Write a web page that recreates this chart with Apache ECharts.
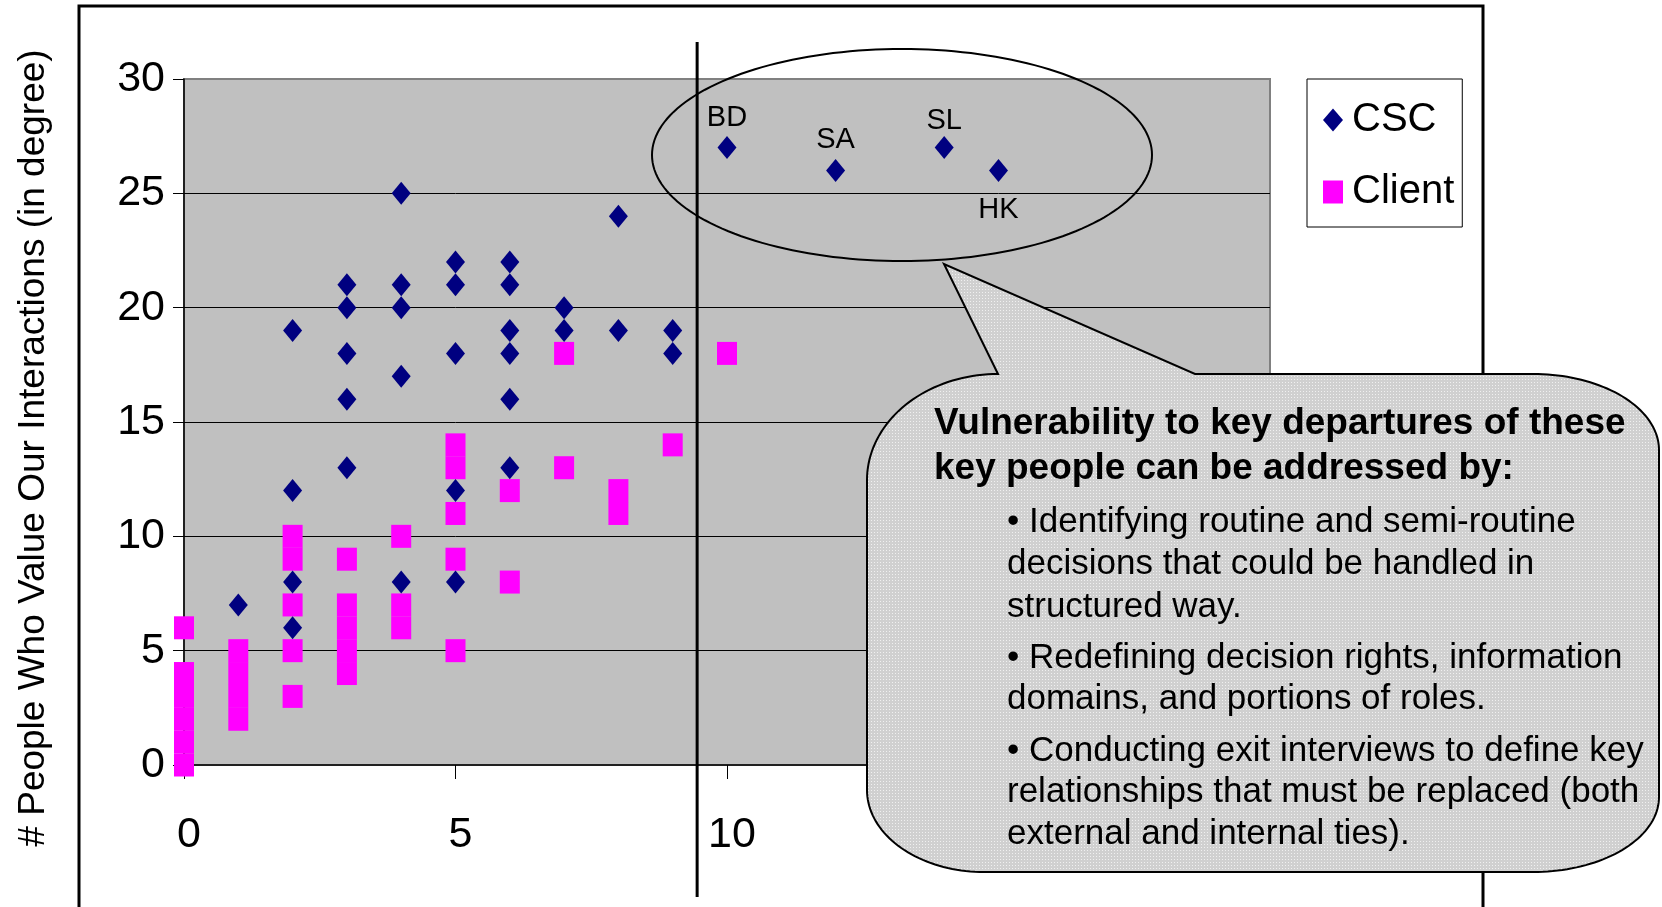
<!DOCTYPE html>
<html><head><meta charset="utf-8">
<script src="https://cdn.jsdelivr.net/npm/echarts@6/dist/echarts.min.js"></script>
<style>html,body{margin:0;padding:0;background:#fff;} #c{width:1662px;height:907px;}</style>
</head><body><div id="c"></div>
<script>
const FONT = "'Liberation Sans', Arial, sans-serif";
const NARROW = "'Liberation Sans Narrow', 'Arial Narrow', 'Liberation Sans', sans-serif";

// ---- data ----
const seriesNames = ['CSC', 'Client'];
const cscPoints = [
  [1,7],
  [2,19],[2,12],[2,8],[2,6],
  [3,21],[3,20],[3,18],[3,16],[3,13],
  [4,25],[4,21],[4,20],[4,17],[4,8],
  [5,22],[5,21],[5,18],[5,12],[5,8],
  [6,22],[6,21],[6,19],[6,18],[6,16],[6,13],
  [7,20],[7,19],
  [8,24],[8,19],
  [9,19],[9,18]
];
const keyPeople = ['BD', 'SA', 'SL', 'HK'];
const keyPeoplePoints = [[10,27],[12,26],[14,27],[15,26]];
const clientPoints = [
  [0,6],[0,4],[0,3],[0,2],[0,1],[0,0],
  [1,5],[1,4],[1,3],[1,2],
  [2,10],[2,9],[2,7],[2,5],[2,3],
  [3,9],[3,7],[3,6],[3,5],[3,4],
  [4,10],[4,7],[4,6],
  [5,14],[5,13],[5,11],[5,9],[5,5],
  [6,12],[6,8],
  [7,18],[7,13],
  [8,12],[8,11],
  [9,14],
  [10,18]
];
const yAxisTitle = '# People Who Value Our Interactions (in degree)';
const thresholdX = 9.45;
const calloutHeading = ['Vulnerability to key departures of these', 'key people can be addressed by:'];
const calloutBullets = [
  ['\u2022 Identifying routine and semi-routine', 'decisions that could be handled in', 'structured way.'],
  ['\u2022 Redefining decision rights, information', 'domains, and portions of roles.'],
  ['\u2022 Conducting exit interviews to define key', 'relationships that must be replaced (both', 'external and internal ties).']
];

// ---- styles (label placement) ----
const labelPlacement = { BD: ['top', 4], SA: ['top', 4], SL: ['top', 1], HK: ['bottom', 14] };

const chart = echarts.init(document.getElementById('c'), null, { renderer: 'canvas' });

const cscData = cscPoints.map(p => ({ value: p })).concat(keyPeople.map((n, i) => ({
  name: n, value: keyPeoplePoints[i],
  label: { show: true, formatter: '{b}', position: labelPlacement[n][0], distance: labelPlacement[n][1],
           fontSize: 29, fontFamily: NARROW, color: '#000' }
})));

chart.setOption({
  animation: false,
  backgroundColor: '#fff',
  grid: { left: 184, top: 79, width: 1086, height: 686, show: true, backgroundColor: '#C0C0C0', borderColor: '#808080', borderWidth: 2 },
  legend: {
    data: seriesNames, orient: 'vertical', left: 1307, top: 79,
    padding: [21, 8, 15, 16], itemGap: 32, itemWidth: 20, itemHeight: 23,
    backgroundColor: '#fff', borderColor: '#000', borderWidth: 1, borderRadius: 0,
    textStyle: { fontSize: 40, fontFamily: FONT, color: '#000', lineHeight: 40, padding: [0, 0, 0, 4] },
    selectedMode: false
  },
  xAxis: {
    type: 'value', min: 0, max: 20, interval: 5,
    axisLine: { show: true, lineStyle: { color: '#000', width: 1.5 } },
    axisTick: { show: true, length: 14, lineStyle: { color: '#000', width: 1 } },
    splitLine: { show: false },
    axisLabel: { fontSize: 43, fontFamily: FONT, color: '#000', margin: 49, padding: [0, 0, 0, 10] }
  },
  yAxis: {
    type: 'value', min: 0, max: 30, interval: 5,
    name: yAxisTitle, nameLocation: 'middle', nameGap: 132, nameRotate: 90,
    nameTextStyle: { fontSize: 37, fontFamily: FONT, color: '#000', padding: [0, 52, 0, 0] },
    axisLine: { show: true, lineStyle: { color: '#000', width: 1.5 } },
    axisTick: { show: true, length: 11, lineStyle: { color: '#000', width: 1 } },
    splitLine: { show: true, showMinLine: false, showMaxLine: false, lineStyle: { color: '#000', width: 1 } },
    axisLabel: { fontSize: 43, fontFamily: FONT, color: '#000', margin: 19, padding: [10, 0, 0, 0] }
  },
  series: [
    { name: 'Client', type: 'scatter', symbol: 'rect', symbolSize: [20, 23], z: 2,
      itemStyle: { color: '#FF00FF', opacity: 1 }, emphasis: { disabled: true }, data: clientPoints },
    { name: 'CSC', type: 'scatter', symbol: 'diamond', symbolSize: [19, 23], z: 3,
      itemStyle: { color: '#000080', opacity: 1 }, emphasis: { disabled: true }, data: cscData }
  ]
});

// ---- annotations ----
function arcPts(cx, cy, rx, ry, a0, a1, n) {
  const pts = [];
  for (let i = 0; i <= n; i++) {
    const a = (a0 + (a1 - a0) * i / n) * Math.PI / 180;
    pts.push([cx + rx * Math.cos(a), cy + ry * Math.sin(a)]);
  }
  return pts;
}
const ellipsePts = arcPts(902, 155, 250, 106, 0, 360, 180);

const L = 867, R = 1659, T = 374, B = 872;
let callout = [[998, T], [944, 264], [1195, T]];
callout = callout.concat(arcPts(1533, 450, 126, 76, -90, 0, 40));
callout = callout.concat(arcPts(1533, 797, 126, 75, 0, 90, 40));
callout = callout.concat(arcPts(984, 790, 117, 82, 90, 180, 40));
callout = callout.concat(arcPts(998, 480, 131, 106, 180, 270, 40));

const pc = document.createElement('canvas');
pc.width = 3; pc.height = 3;
const g = pc.getContext('2d');
g.fillStyle = '#D0D0D0'; g.fillRect(0, 0, 3, 3);
g.fillStyle = '#F0F0F0'; g.fillRect(1, 1, 1, 1);

const vx = chart.convertToPixel({ xAxisIndex: 0 }, thresholdX);

const graphics = [
  { type: 'rect', z: 1, silent: true, shape: { x: 79, y: 6, width: 1404, height: 1000 },
    style: { fill: 'none', stroke: '#000', lineWidth: 3 } },
  { type: 'line', z: 10, silent: true, shape: { x1: vx, y1: 42, x2: vx, y2: 897 },
    style: { stroke: '#000', lineWidth: 3 } },
  { type: 'polygon', z: 10, silent: true, shape: { points: ellipsePts },
    style: { fill: 'none', stroke: '#000', lineWidth: 2 } },
  { type: 'polygon', z: 100, silent: true, shape: { points: callout },
    style: { fill: { image: pc, repeat: 'repeat' }, stroke: '#000', lineWidth: 2 } }
];
const headFs = 37, bodyFs = 35;
const headBase = [437, 482];
calloutHeading.forEach((t, i) => graphics.push({
  type: 'text', z: 101, silent: true, x: 934, y: headBase[i] - 0.3465 * headFs,
  style: { text: t, font: 'bold ' + headFs + 'px ' + FONT, fill: '#000', verticalAlign: 'middle', align: 'left' }
}));
const bodyBase = [[534, 576.5, 619], [670, 711], [763.5, 804.5, 846]];
calloutBullets.forEach((para, pi) => para.forEach((t, li) => graphics.push({
  type: 'text', z: 101, silent: true, x: 1007, y: bodyBase[pi][li] - 0.3465 * bodyFs,
  style: { text: t, font: bodyFs + 'px ' + FONT, fill: '#000', verticalAlign: 'middle', align: 'left' }
})));

chart.setOption({ graphic: graphics });
</script>
</body></html>
